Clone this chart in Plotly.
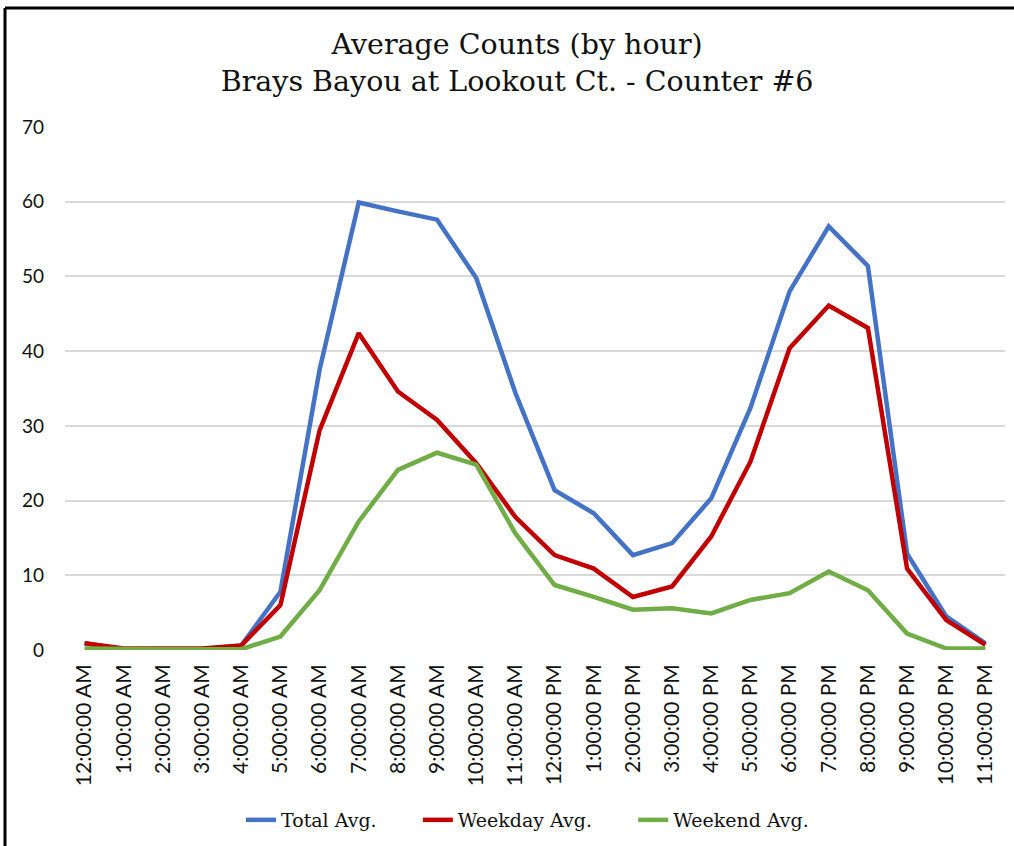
import plotly.graph_objects as go

# Hourly categories
hours = [
    "12:00:00 AM", "1:00:00 AM", "2:00:00 AM", "3:00:00 AM", "4:00:00 AM", "5:00:00 AM",
    "6:00:00 AM", "7:00:00 AM", "8:00:00 AM", "9:00:00 AM", "10:00:00 AM", "11:00:00 AM",
    "12:00:00 PM", "1:00:00 PM", "2:00:00 PM", "3:00:00 PM", "4:00:00 PM", "5:00:00 PM",
    "6:00:00 PM", "7:00:00 PM", "8:00:00 PM", "9:00:00 PM", "10:00:00 PM", "11:00:00 PM",
]

# Values
total_avg = [0.9, 0.1, 0.1, 0.1, 0.6, 7.8, 37.5, 59.9, 58.7, 57.6, 49.8, 34.4,
             21.4, 18.3, 12.7, 14.3, 20.3, 32.4, 48.0, 56.7, 51.4, 12.9, 4.5, 0.9]
weekday_avg = [0.9, 0.2, 0.2, 0.2, 0.6, 6.0, 29.4, 42.4, 34.6, 30.8, 25.0, 17.8,
               12.7, 10.9, 7.1, 8.5, 15.2, 25.2, 40.4, 46.1, 43.1, 10.9, 4.0, 0.7]
weekend_avg = [0.2, 0.1, 0.1, 0.1, 0.1, 1.8, 8.0, 17.2, 24.1, 26.4, 24.8, 15.6,
               8.7, 7.1, 5.4, 5.6, 4.9, 6.7, 7.6, 10.5, 8.0, 2.2, 0.2, 0.2]

W, H = 1014, 846
L, R, T, B = 65, 9, 127, 196

pad = "\u00a0" * 6
fig = go.Figure()
for name, label, vals, color in [("Total Avg.", "Total Avg." + pad, total_avg, "#4472C4"),
                                 ("Weekday Avg.", "Weekday Avg." + pad, weekday_avg, "#C00000"),
                                 ("Weekend Avg.", "Weekend Avg.", weekend_avg, "#70AD47")]:
    fig.add_trace(go.Scatter(
        x=hours, y=vals, name=label, mode="lines",
        line=dict(color=color, width=4.5),
        hovertemplate="%{x}<br>" + name + ": %{y}<extra></extra>",
    ))

# black frame at top and left of the picture
pw, ph = W - L - R, H - T - B
top_y = (H - B - 8) / ph
left_x = (5 - L) / pw
fig.add_shape(type="line", xref="paper", yref="paper",
              x0=left_x, x1=(W - L) / pw, y0=top_y, y1=top_y,
              line=dict(color="black", width=3))
fig.add_shape(type="line", xref="paper", yref="paper",
              x0=left_x, x1=left_x, y0=top_y, y1=-B / ph,
              line=dict(color="black", width=3))

fig.update_layout(
    width=W, height=H,
    margin=dict(l=L, r=R, t=T, b=B, autoexpand=False),
    paper_bgcolor="white", plot_bgcolor="white",
    title=dict(
        text="Average Counts (by hour)<br>Brays Bayou at Lookout Ct. - Counter #6",
        x=0.51, xref="container", xanchor="center",
        y=1 - 54 / H, yref="container", yanchor="middle",
        font=dict(family="DejaVu Serif", size=28.5, color="#111111"),
    ),
    legend=dict(
        orientation="h", x=(241 - L) / pw, xanchor="left",
        y=(H - B - 820) / ph, yanchor="middle",
        font=dict(family="DejaVu Serif", size=19, color="#111111"),
        tracegroupgap=0,
    ),
    showlegend=True,
)

fig.update_xaxes(
    type="category", tickangle=-90, range=[-0.5, 23.5],
    showgrid=False, showline=False, zeroline=False, ticks="",
    ticklabelstandoff=9,
    tickfont=dict(family="Lato", size=21, color="#111111"),
)
fig.update_yaxes(
    range=[0, 70], dtick=10,
    showgrid=True, gridcolor="#D9D9D9", gridwidth=1.5,
    zeroline=False, showline=False, ticks="",
    ticklabelstandoff=20,
    tickfont=dict(family="Lato", size=19, color="#111111"),
)

fig.write_html("out.html", config={"displayModeBar": False},
               post_script="document.body.style.margin='0';")
